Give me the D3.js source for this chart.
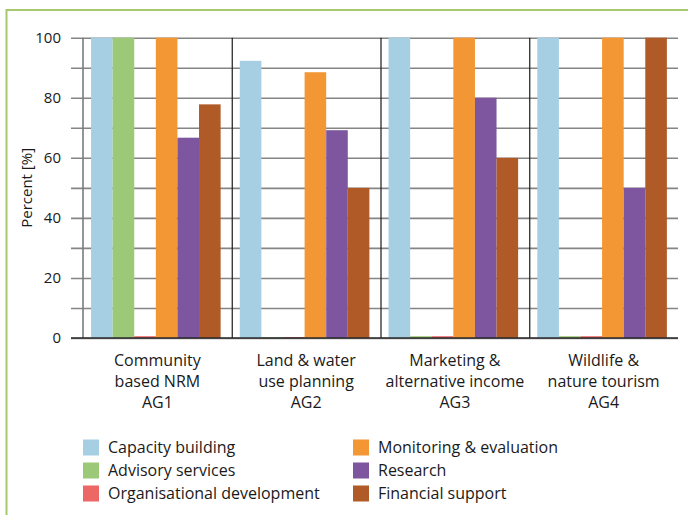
<!DOCTYPE html>
<html>
<head>
<meta charset="utf-8">
<script src="https://cdn.jsdelivr.net/npm/d3@7"></script>
<style>
  body { margin: 0; background: #fff; }
  text { font-family: "Open Sans", sans-serif; fill: #1a1a1a; }
</style>
</head>
<body>
<script>
// groups along the x axis
let groups = ["AG1", "AG2", "AG3", "AG4"];
let groupLabels = [
    ["Community", "based NRM", "AG1"],
    ["Land & water", "use planning", "AG2"],
    ["Marketing &", "alternative income", "AG3"],
    ["Wildlife &", "nature tourism", "AG4"]
];

let seriesNames = ["Capacity building", "Advisory services", "Organisational development",
                   "Monitoring & evaluation", "Research", "Financial support"];
let seriesColors = ["#a6cfe3", "#9cc977", "#ee6767", "#f39634", "#7e56a0", "#b05a27"];

// percent values per series, one per group
let capacityBuilding  = [100, 92.3, 100, 100];
let advisoryServices  = [100, 0.3, 0.6, 0.6];
let organisational    = [0.6, 0.3, 0.6, 0.6];
let monitoringEval    = [100, 88.5, 100, 100];
let research          = [66.7, 69.2, 80, 50];
let financialSupport  = [77.8, 50, 60, 100];

let yTicks = [0, 10, 20, 30, 40, 50, 60, 70, 80, 90, 100];

let seriesValues = [capacityBuilding, advisoryServices, organisational,
                    monitoringEval, research, financialSupport];

let W = 688, H = 515;
let plot = {left: 83, right: 678, top: 37.7, bottom: 338};

let svg = d3.select("body").append("svg")
    .attr("width", W)
    .attr("height", H);

// green frame round the figure
svg.append("rect")
    .attr("x", 6.5).attr("y", 10)
    .attr("width", W + 20).attr("height", H + 20)
    .attr("fill", "none")
    .attr("stroke", "#a5c96c")
    .attr("stroke-width", 2);

let x0 = d3.scaleBand().domain(groups).range([plot.left, plot.right]).padding(0);
let x1 = d3.scaleBand().domain(seriesNames).range([0, x0.bandwidth()])
    .paddingInner(0).paddingOuter(0.444).align(0.42);
let y = d3.scaleLinear().domain([0, 100]).range([plot.bottom, plot.top]);

// grid lines (with the small tick stubs left of the axis)
let grid = svg.append("g")
    .attr("transform", `translate(${plot.left - 12},0)`)
    .call(d3.axisRight(y).tickValues(yTicks).tickSize(plot.right - plot.left + 12).tickFormat(""));
grid.select(".domain").remove();
grid.selectAll(".tick line").attr("stroke", "#858585").attr("stroke-width", 1.6);

// tick labels
let yAxis = svg.append("g")
    .attr("transform", `translate(${plot.left - 12},0)`)
    .call(d3.axisLeft(y).tickValues(yTicks.filter(d => d % 20 === 0)).tickSize(0).tickPadding(10));
yAxis.select(".domain").remove();
yAxis.selectAll("text")
    .style("font-size", "15px")
    .style("font-family", "'Open Sans', sans-serif")
    .attr("fill", "#1a1a1a");

// bars
let rows = [];
groups.forEach((g, gi) => {
    seriesNames.forEach((s, si) => {
        rows.push({group: g, series: s, value: seriesValues[si][gi], color: seriesColors[si]});
    });
});

svg.append("g").selectAll("rect")
    .data(rows)
    .enter()
    .append("rect")
        .attr("x", d => x0(d.group) + x1(d.series))
        .attr("y", d => y(d.value))
        .attr("width", x1.bandwidth())
        .attr("height", d => y(0) - y(d.value))
        .attr("fill", d => d.color);

// y axis line and group separators
svg.append("line")
    .attr("x1", plot.left).attr("x2", plot.left)
    .attr("y1", plot.top).attr("y2", plot.bottom)
    .attr("stroke", "#7a7a7a").attr("stroke-width", 1.6);

svg.append("g").selectAll("line")
    .data(groups.slice(1))
    .enter()
    .append("line")
        .attr("x1", d => x0(d) + 0.5).attr("x2", d => x0(d) + 0.5)
        .attr("y1", plot.top).attr("y2", plot.bottom)
        .attr("stroke", "#1a1a1a").attr("stroke-width", 1.2);

// zero line
svg.append("line")
    .attr("x1", plot.left - 12).attr("x2", plot.right)
    .attr("y1", y(0)).attr("y2", y(0))
    .attr("stroke", "#2a2a2a").attr("stroke-width", 1.6);

// y axis title
svg.append("text")
    .attr("transform", `translate(32,${(plot.top + plot.bottom) / 2}) rotate(-90)`)
    .attr("text-anchor", "middle")
    .style("font-size", "15px")
    .text("Percent [%]");

// category labels
let catLabels = svg.append("g").selectAll("text")
    .data(groups)
    .enter()
    .append("text")
        .attr("text-anchor", "middle")
        .style("font-size", "16px");

catLabels.selectAll("tspan")
    .data((d, i) => groupLabels[i].map(t => ({t: t, g: d})))
    .enter()
    .append("tspan")
        .attr("x", d => x0(d.g) + x0.bandwidth() / 2)
        .attr("y", (d, i) => 366 + i * 21)
        .text(d => d.t);

// legend
let legend = svg.append("g").selectAll("g")
    .data(seriesNames)
    .enter()
    .append("g")
        .attr("transform", (d, i) => `translate(${i < 3 ? 83 : 353}, ${439.5 + (i % 3) * 23})`);

legend.append("rect")
    .attr("width", 16)
    .attr("height", 16)
    .attr("fill", (d, i) => seriesColors[i]);

legend.append("text")
    .attr("x", 25)
    .attr("y", 8)
    .attr("dy", "0.36em")
    .style("font-size", "16px")
    .text(d => d);
</script>
</body>
</html>
